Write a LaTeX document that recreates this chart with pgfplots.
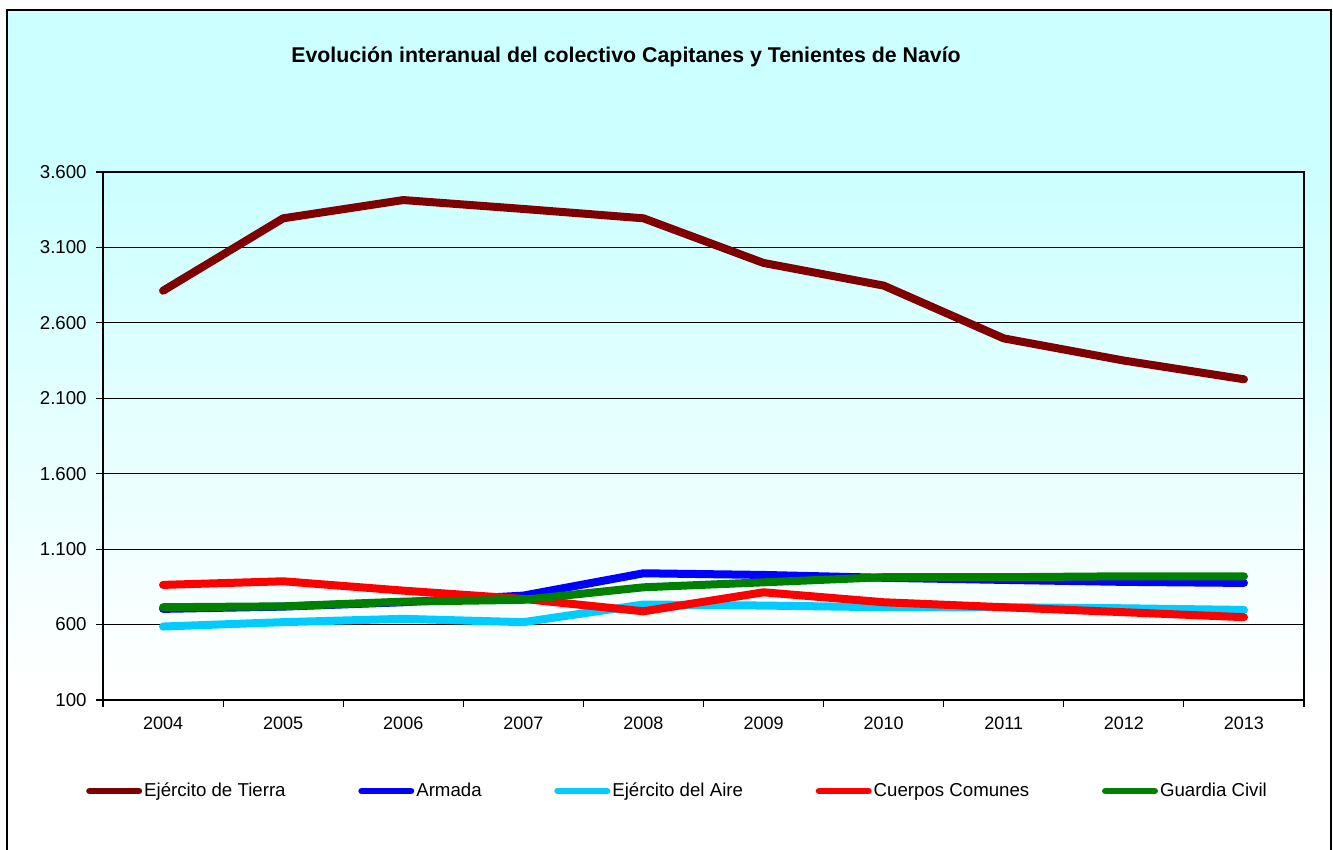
\documentclass[border=0pt]{standalone}
\usepackage{fontspec}
\setmainfont{Liberation Sans}
\usepackage{pgfplots}
\pgfplotsset{compat=1.18}

\definecolor{bgcyan}{HTML}{CCFFFF}
\definecolor{ctierra}{HTML}{800000}
\definecolor{carmada}{HTML}{0000FF}
\definecolor{caire}{HTML}{00CCFF}
\definecolor{ccomunes}{HTML}{FF0000}
\definecolor{cguardia}{HTML}{008000}
\pgfdeclareverticalshading{bgshade}{100bp}{color(0bp)=(white); color(35bp)=(white); color(65bp)=(bgcyan); color(100bp)=(bgcyan)}

\begin{document}
\begin{tikzpicture}[x=0.75pt,y=0.75pt]
\useasboundingbox (0,0) rectangle (1333,849);
\shade[shading=bgshade] (7,-5) rectangle (1331,839);
\node[font=\bfseries\fontsize{16}{19}\selectfont] at (626,792) {Evolución interanual del colectivo Capitanes y Tenientes de Navío};
\begin{axis}[
  at={(77.25pt,111.75pt)}, anchor=south west, scale only axis,
  width=900.75pt, height=396pt,
  xmin=2003.5, xmax=2013.5, ymin=100, ymax=3600,
  xtick={2003.5,2004.5,2005.5,2006.5,2007.5,2008.5,2009.5,2010.5,2011.5,2012.5,2013.5},
  x tick label as interval,
  xticklabels={2004,2005,2006,2007,2008,2009,2010,2011,2012,2013},
  ytick={100,600,1100,1600,2100,2600,3100,3600},
  xtick pos=bottom, ytick pos=left,
  ymajorgrids,
  major grid style={black, line width=0.8pt},
  axis line style={black, line width=0.8pt},
  tick style={black, line width=0.8pt},
  tick align=outside, major tick length=5pt,
  /pgf/number format/1000 sep={.},
  /pgf/number format/assume math mode=true,
  xticklabel style={font=\fontsize{13.5}{16}\selectfont, yshift=-4.5pt},
  yticklabel style={font=\fontsize{14}{16}\selectfont, xshift=-3.75pt},
  legend style={at={(-0.0142,-0.1723)}, anchor=west, draw=none, fill=none,
    legend columns=5, inner sep=0pt, font=\fontsize{14}{16}\selectfont,
    /tikz/every even column/.append style={column sep=53pt},
    nodes={inner sep=1.5pt}},
  legend image code/.code={\draw[#1, line width=5pt, line cap=round] (2.5pt,0pt) -- (39.5pt,0pt);},
  every axis plot/.append style={line width=6pt, line cap=round, line join=round, mark=none},
]
\addplot[ctierra] coordinates {(2004,2813) (2005,3293) (2006,3414) (2007,3355) (2008,3293) (2009,2997) (2010,2847) (2011,2497) (2012,2350) (2013,2226)};
\addlegendentry{Ejército de Tierra}
\addplot[carmada] coordinates {(2004,704) (2005,719) (2006,748) (2007,792) (2008,940) (2009,929) (2010,910) (2011,896) (2012,883) (2013,876)};
\addlegendentry{Armada}
\addplot[caire] coordinates {(2004,587) (2005,616) (2006,638) (2007,616) (2008,733) (2009,726) (2010,715) (2011,715) (2012,708) (2013,697)};
\addlegendentry{Ejército del Aire}
\addplot[ccomunes] coordinates {(2004,863) (2005,887) (2006,825) (2007,770) (2008,688) (2009,814) (2010,748) (2011,715) (2012,682) (2013,649)};
\addlegendentry{Cuerpos Comunes}
\addplot[cguardia] coordinates {(2004,715) (2005,721) (2006,752) (2007,764) (2008,847) (2009,880) (2010,914) (2011,914) (2012,920) (2013,920)};
\addlegendentry{Guardia Civil}
\end{axis}
\draw[line width=2pt] (7,-5) rectangle (1331,839);
\end{tikzpicture}
\end{document}
